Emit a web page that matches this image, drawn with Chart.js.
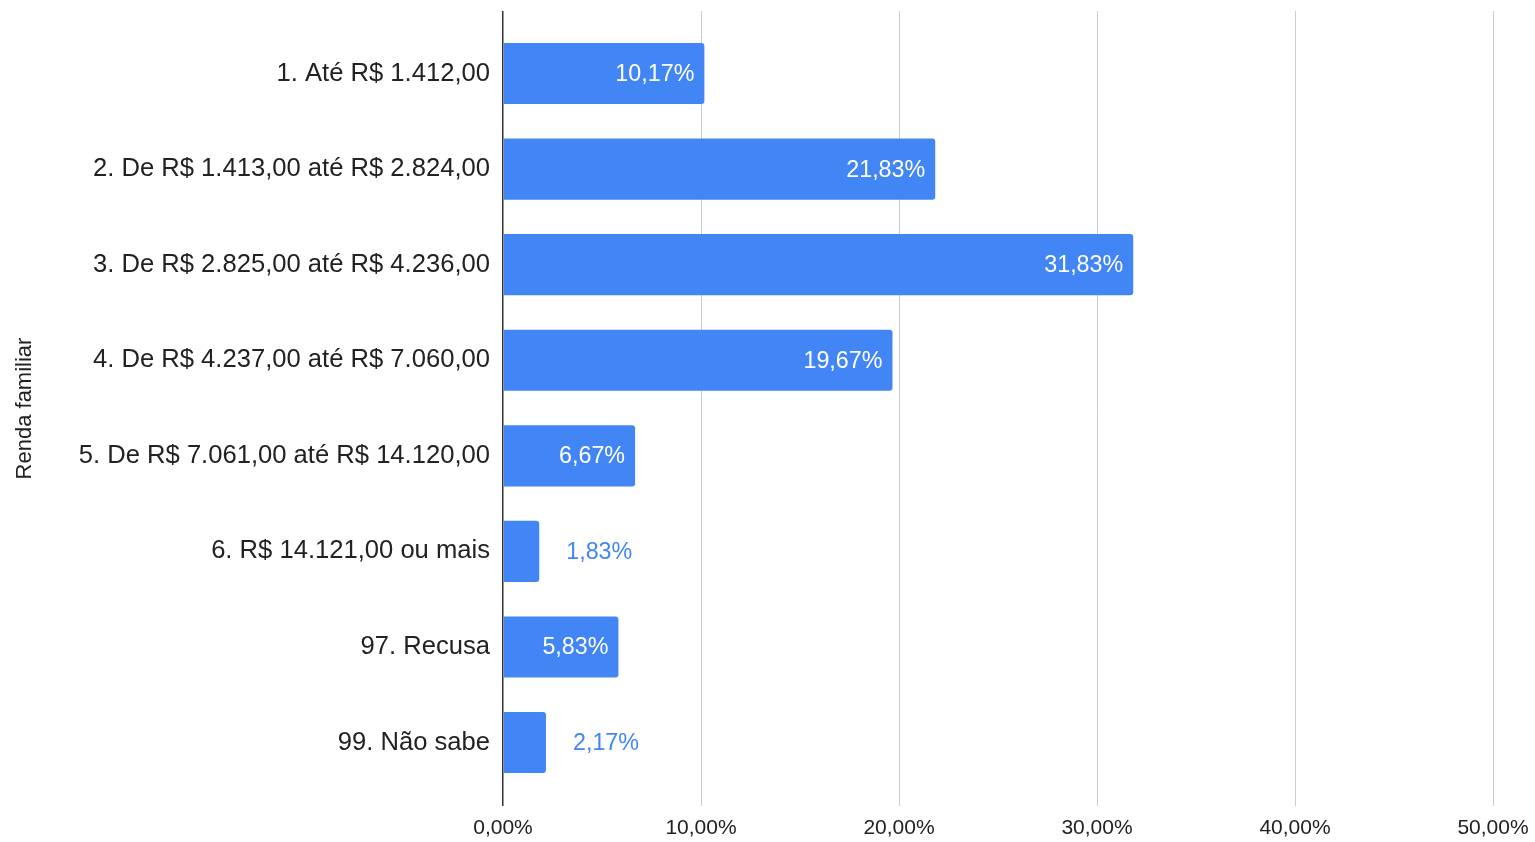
<!DOCTYPE html>
<html>
<head>
<meta charset="utf-8">
<script src="https://cdn.jsdelivr.net/npm/chart.js@4/dist/chart.umd.min.js"></script>
<style>
  html, body { margin: 0; padding: 0; background: #fff; }
  #wrap { width: 1535px; height: 842px; position: relative; }
</style>
</head>
<body>
<div id="wrap"><canvas id="c" width="1535" height="842"></canvas></div>
<script>
const categories = [
  '1. Até R$ 1.412,00',
  '2. De R$ 1.413,00 até R$ 2.824,00',
  '3. De R$ 2.825,00 até R$ 4.236,00',
  '4. De R$ 4.237,00 até R$ 7.060,00',
  '5. De R$ 7.061,00 até R$ 14.120,00',
  '6. R$ 14.121,00 ou mais',
  '97. Recusa',
  '99. Não sabe'
];
const values = [10.17, 21.83, 31.83, 19.67, 6.67, 1.83, 5.83, 2.17];
const valueLabels = ['10,17%', '21,83%', '31,83%', '19,67%', '6,67%', '1,83%', '5,83%', '2,17%'];
const xTickValues = [0, 10, 20, 30, 40, 50];
const xTickLabels = ['0,00%', '10,00%', '20,00%', '30,00%', '40,00%', '50,00%'];
const axisTitle = 'Renda familiar';

const FONT = '"Liberation Sans", Arial, Helvetica, sans-serif';
const BLUE = '#4285F4';

const barLabels = {
  id: 'barLabels',
  afterDatasetsDraw(chart) {
    const ctx = chart.ctx;
    const meta = chart.getDatasetMeta(0);
    ctx.save();
    ctx.font = '23.3px ' + FONT;
    ctx.textBaseline = 'middle';
    meta.data.forEach((bar, i) => {
      const txt = valueLabels[i];
      const w = ctx.measureText(txt).width;
      const len = bar.x - bar.base;
      if (w + 20 < len) {
        ctx.fillStyle = '#ffffff';
        ctx.textAlign = 'right';
        ctx.fillText(txt, bar.x - 10, bar.y + 1);
      } else {
        ctx.fillStyle = BLUE;
        ctx.textAlign = 'left';
        ctx.fillText(txt, bar.x + 27, bar.y + 1);
      }
    });
    ctx.restore();
  }
};

new Chart(document.getElementById('c'), {
  type: 'bar',
  data: {
    datasets: [{
      data: values.map((v, i) => ({ x: v, y: i })),
      backgroundColor: BLUE,
      borderRadius: 3,
      borderSkipped: 'start',
      barPercentage: 0.64,
      categoryPercentage: 1
    }]
  },
  options: {
    indexAxis: 'y',
    responsive: false,
    animation: false,
    layout: { padding: { left: 0, right: 42, top: 11, bottom: 0 } },
    plugins: { legend: { display: false }, tooltip: { enabled: false } },
    scales: {
      x: {
        type: 'linear',
        position: 'bottom',
        min: 0,
        max: 50,
        afterBuildTicks: s => { s.ticks = xTickValues.map(v => ({ value: v })); },
        afterFit: s => { s.height = 36; s.paddingLeft = 0; s.paddingRight = 0; },
        grid: {
          drawTicks: false,
          color: c => (c.tick && c.tick.value === 0) ? '#333333' : '#cccccc',
          lineWidth: c => (c.tick && c.tick.value === 0) ? 1.5 : 1
        },
        border: { display: false },
        ticks: {
          padding: 10,
          color: '#222222',
          font: { family: FONT, size: 21 },
          maxRotation: 0,
          autoSkip: false,
          callback: (v, i) => xTickLabels[i]
        }
      },
      y: {
        type: 'linear',
        reverse: true,
        offset: false,
        min: -0.654,
        max: 7.664,
        afterBuildTicks: s => { s.ticks = categories.map((_, i) => ({ value: i })); },
        afterFit: s => { s.width = 503; s.paddingTop = 0; s.paddingBottom = 0; },
        grid: { display: false, drawTicks: false, offset: false },
        border: { display: false },
        ticks: {
          padding: 13,
          color: '#222222',
          font: { family: FONT, size: 25.6 },
          autoSkip: false,
          callback: (v) => categories[v]
        },
        title: {
          display: true,
          text: axisTitle,
          color: '#222222',
          font: { family: FONT, size: 22 },
          padding: { top: 12, bottom: 0 }
        }
      }
    }
  },
  plugins: [barLabels]
});
</script>
</body>
</html>
